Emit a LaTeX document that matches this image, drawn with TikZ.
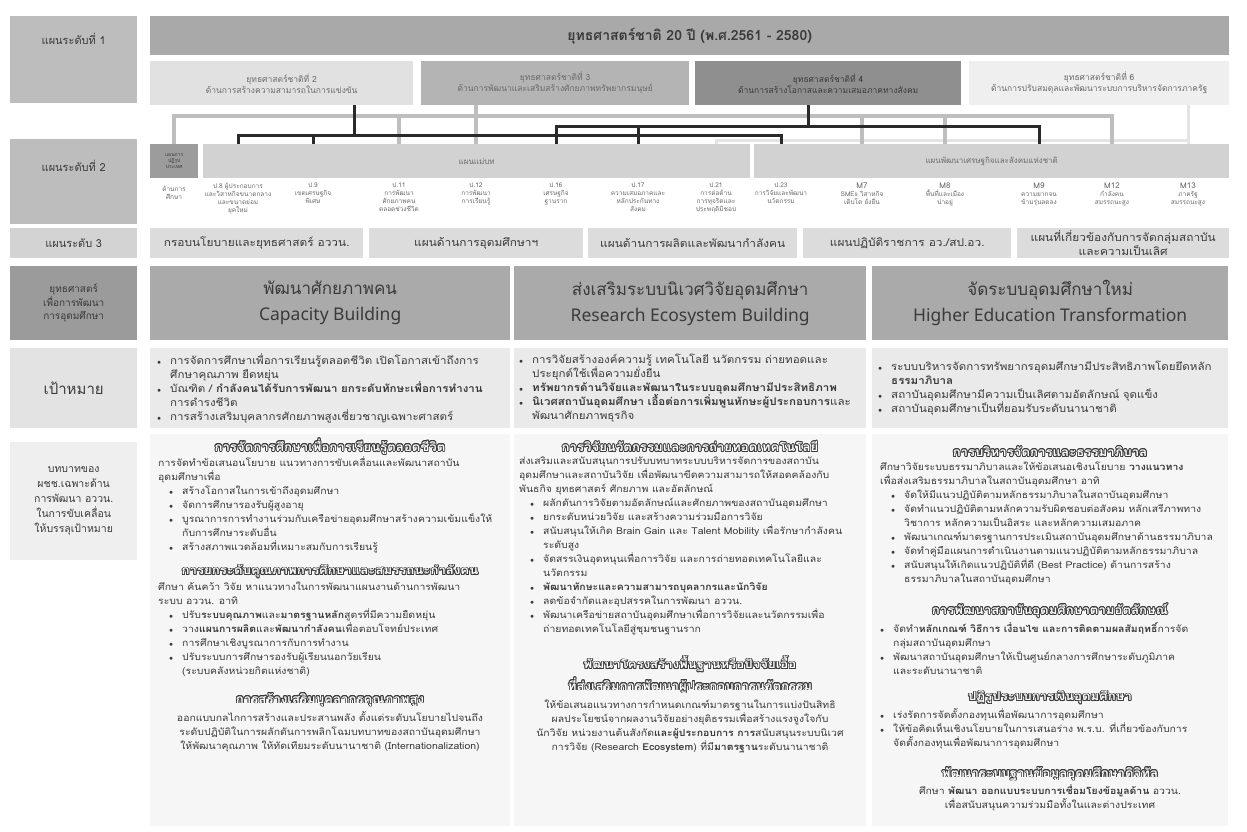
\documentclass[tikz,border=0pt]{standalone}
\usepackage{fontspec}
\usepackage[copies]{contour}
\setmainfont[Script=Thai]{Loma}
\newfontfamily\widethai[Script=Thai, FakeStretch=1.1]{Loma}
\newfontfamily\latinsans{Noto Sans}
\usetikzlibrary{positioning,calc}

\definecolor{ctitle}{HTML}{A9A9A9}
\definecolor{clab}{HTML}{BDBDBD}
\definecolor{csa}{HTML}{E1E1E1}
\definecolor{csb}{HTML}{B4B4B4}
\definecolor{csc}{HTML}{8F8F8F}
\definecolor{csd}{HTML}{EFEFEF}
\definecolor{cbar}{HTML}{D2D2D2}
\definecolor{creform}{HTML}{9C9C9C}
\definecolor{cplanlab}{HTML}{D3D3D3}
\definecolor{cplan}{HTML}{DCDCDC}
\definecolor{cstrlab}{HTML}{9B9B9B}
\definecolor{cstr}{HTML}{AAAAAA}
\definecolor{cgoallab}{HTML}{E3E3E3}
\definecolor{cgoal}{HTML}{EAEAEA}
\definecolor{clow}{HTML}{F6F6F6}
\definecolor{clowlab}{HTML}{EFEFEF}
\definecolor{txt}{HTML}{3A3A3A}
\definecolor{softtxt}{HTML}{6A6A6A}
\definecolor{headtxt}{HTML}{3C3C3C}
\definecolor{lnheavy}{HTML}{2A2A2A}
\definecolor{lnmid}{HTML}{BEBEBE}
\definecolor{lnpale}{HTML}{E4E4E4}

\contourlength{0.8pt}
\contournumber{16}
\newcommand{\hd}[1]{\contour{headtxt}{#1}}
\newcommand{\itm}{\makebox[13pt][l]{\scriptsize$\bullet$}}
\newcommand{\ind}{\hspace*{13pt}}
\newcommand{\sitm}{\hspace*{11pt}\itm}
\newcommand{\sind}{\hspace*{24pt}}

\tikzstyle{cell} = [rectangle, inner sep=0pt, anchor=north west, align=center, text=txt]
\tikzstyle{lvltext} = [font=\fontsize{11}{14}\selectfont, text=txt]
\tikzstyle{natbox} = [cell, minimum height=44pt, font=\fontsize{8.5}{11}\selectfont, text=softtxt]
\tikzstyle{item} = [anchor=north, align=center, inner sep=0pt, font=\fontsize{6.5}{8}\selectfont, text=softtxt]
\tikzstyle{planbox} = [cell, fill=cplan, minimum height=30pt, font=\widethai\fontsize{10.8}{12}\selectfont]
\tikzstyle{strbox} = [cell, fill=cstr, minimum height=74pt, font=\fontsize{17}{26}\selectfont]
\tikzstyle{goalbox} = [cell, fill=cgoal, minimum height=80pt, align=left, font=\widethai\fontsize{10.5}{14}\selectfont]
\tikzstyle{lowbox} = [cell, fill=clow, minimum height=392pt]
\tikzstyle{body} = [anchor=north west, align=left, inner sep=0pt, font=\widethai\fontsize{9.5}{14}\selectfont, text=txt]
\tikzstyle{bodyc} = [body, anchor=north, align=center]
\tikzstyle{head} = [anchor=center, inner sep=0pt, align=center, font=\widethai\fontsize{12}{15}\selectfont\bfseries, text=white]
\tikzstyle{darkln} = [line width=3pt, lnheavy]
\tikzstyle{midln} = [line width=3.5pt, lnmid]
\tikzstyle{paleln} = [line width=3pt, lnpale]

\begin{document}
\begin{tikzpicture}[x=1pt, y=-1pt]
  \fill[white] (0,0) rectangle (1247,831);
  \useasboundingbox (0,0) rectangle (1247,831);

  % level 1
  \node[cell, fill=clab, minimum width=127pt, minimum height=87pt,
    label={[lvltext, anchor=north, yshift=-14pt]north:แผนระดับที่ 1}] (lv1) at (10,16) {};
  \node[cell, fill=ctitle, minimum width=1079pt, minimum height=39pt,
    font=\fontsize{14}{16}\selectfont\bfseries] (nat) at (150,16) {ยุทธศาสตร์ชาติ 20 ปี (พ.ศ.2561 - 2580)};
  \node[natbox, fill=csa, minimum width=263pt] (s2) at (150,61) {ยุทธศาสตร์ชาติที่ 2\\ด้านการสร้างความสามารถในการแข่งขัน};
  \node[natbox, fill=csb, minimum width=268pt] (s3) at (421,61) {ยุทธศาสตร์ชาติที่ 3\\ด้านการพัฒนาและเสริมสร้างศักยภาพทรัพยากรมนุษย์};
  \node[natbox, fill=csc, minimum width=266pt, text=txt] (s4) at (695,61) {ยุทธศาสตร์ชาติที่ 4\\ด้านการสร้างโอกาสและความเสมอภาคทางสังคม};
  \node[natbox, fill=csd, minimum width=260pt] (s6) at (969,61) {ยุทธศาสตร์ชาติที่ 6\\ด้านการปรับสมดุลและพัฒนาระบบการบริหารจัดการภาครัฐ};

  % level 2
  \node[cell, fill=clab, minimum width=127pt, minimum height=85pt,
    label={[lvltext, anchor=north, yshift=-18pt]north:แผนระดับที่ 2}] (lv2) at (10,139) {};
  \node[cell, fill=creform, minimum width=48pt, minimum height=34pt,
    font=\fontsize{5}{6}\selectfont] (reform) at (150,144) {แผนการ\\ปฏิรูป\\ประเทศ};
  \node[item] (rfx) at (174,186) {ด้านการ\\ศึกษา};
  \node[cell, fill=cbar, minimum width=547pt, minimum height=34pt,
    font=\fontsize{8}{10}\selectfont, text=softtxt] (mb) at (203,144) {แผนแม่บท};
  \node[cell, fill=cbar, minimum width=475pt, minimum height=34pt,
    font=\fontsize{8}{10}\selectfont, text=softtxt] (ne) at (754,144) {แผนพัฒนาเศรษฐกิจและสังคมแห่งชาติ};

  \node[item] (p8) at (238,183) {ป.8 ผู้ประกอบการ\\และวิสาหกิจขนาดกลาง\\และขนาดย่อม\\ยุคใหม่};
  \node[item] (p9) at (313,183) {ป.9\\เขตเศรษฐกิจ\\พิเศษ};
  \node[item] (p11) at (399,183) {ป.11\\การพัฒนา\\ศักยภาพคน\\ตลอดช่วงชีวิต};
  \node[item] (p12) at (476,183) {ป.12\\การพัฒนา\\การเรียนรู้};
  \node[item] (p16) at (556,183) {ป.16\\เศรษฐกิจ\\ฐานราก};
  \node[item] (p17) at (638,183) {ป.17\\ความเสมอภาคและ\\หลักประกันทาง\\สังคม};
  \node[item] (p21) at (716,183) {ป.21\\การต่อต้าน\\การทุจริตและ\\ประพฤติมิชอบ};
  \node[item] (p23) at (781,183) {ป.23\\การวิจัยและพัฒนา\\นวัตกรรม};
  \node[item] (m7) at (862,183) {{\fontsize{8}{9}\selectfont M7}\\SMEs วิสาหกิจ\\เติบโต ยั่งยืน};
  \node[item] (m8) at (945,183) {{\fontsize{8}{9}\selectfont M8}\\พื้นที่และเมือง\\น่าอยู่};
  \node[item] (m9) at (1039,183) {{\fontsize{8}{9}\selectfont M9}\\ความยากจน\\ข้ามรุ่นลดลง};
  \node[item] (m12) at (1112,183) {{\fontsize{8}{9}\selectfont M12}\\กำลังคน\\สมรรถนะสูง};
  \node[item] (m13) at (1188,183) {{\fontsize{8}{9}\selectfont M13}\\ภาครัฐ\\สมรรถนะสูง};

  % links between level 1 and level 2
  \coordinate (gy) at (0,116);
  \coordinate (by) at (0,126);
  \coordinate (ay) at (0,135);
  \coordinate (ly) at (0,140);
  \coordinate (s2x) at (354,105);
  \coordinate (s4x) at (808,105);

  \draw[paleln] (s6.south -| m13) -- (m13 |- ne.north);
  \draw[paleln] (m13 |- ly) -- (p21 |- ly) -- (p21 |- mb.north);

  \draw[midln] (reform.north) -- (reform |- gy) -- (m12 |- gy) -- (m12 |- ne.north);
  \draw[midln] (s3.south -| p12) -- (p12 |- mb.north);
  \draw[midln] (p11 |- gy) -- (p11 |- mb.north);
  \foreach \n in {m7,m8}
    \draw[midln] (\n |- gy) -- (\n |- ne.north);

  \draw[darkln] (s4x) -- (s4x |- by);
  \draw[darkln] (p16 |- mb.north) -- (p16 |- by) -- (m9 |- by) -- (m9 |- ne.north);
  \draw[darkln] (p17 |- by) -- (p17 |- mb.north);

  \draw[darkln] (s2x) -- (s2x |- ay);
  \draw[darkln] (p8 |- mb.north) -- (p8 |- ay) -- (p23 |- ay) -- (p23 |- mb.north);
  \draw[darkln] (p9 |- ay) -- (p9 |- mb.north);

  % level 3
  \node[cell, fill=cplanlab, minimum width=127pt, minimum height=30pt, lvltext] (lv3) at (10,228) {แผนระดับ 3};
  \node[planbox, minimum width=213pt] (pl1) at (150,228) {กรอบนโยบายและยุทธศาสตร์ อววน.};
  \node[planbox, minimum width=214pt] (pl2) at (369,228) {แผนด้านการอุดมศึกษาฯ};
  \node[planbox, minimum width=209pt] (pl3) at (588,228) {แผนด้านการผลิตและพัฒนากำลังคน};
  \node[planbox, minimum width=208pt] (pl4) at (803,228) {แผนปฏิบัติราชการ อว./สป.อว.};
  \node[planbox, minimum width=212pt, font=\widethai\fontsize{10.8}{11.5}\selectfont] (pl5) at (1017,228) {แผนที่เกี่ยวข้องกับการจัดกลุ่มสถาบัน\\และความเป็นเลิศ};

  % strategies
  \node[cell, fill=cstrlab, minimum width=127pt, minimum height=74pt,
    font=\fontsize{10}{13.5}\selectfont] (lvs) at (10,266) {ยุทธศาสตร์\\เพื่อการพัฒนา\\การอุดมศึกษา};
  \node[strbox, minimum width=360pt] (st1) at (150,266) {พัฒนาศักยภาพคน\\{\latinsans\fontsize{17.5}{26}\selectfont Capacity Building}};
  \node[strbox, minimum width=352pt] (st2) at (514,266) {ส่งเสริมระบบนิเวศวิจัยอุดมศึกษา\\{\latinsans\fontsize{17.5}{26}\selectfont Research Ecosystem Building}};
  \node[strbox, minimum width=356pt] (st3) at (872,266) {จัดระบบอุดมศึกษาใหม่\\{\latinsans\fontsize{17.5}{26}\selectfont Higher Education Transformation}};

  % goals
  \node[cell, fill=cgoallab, minimum width=127pt, minimum height=80pt,
    font=\fontsize{15}{17}\selectfont] (lvg) at (10,348) {เป้าหมาย};
  \node[goalbox, minimum width=360pt, text width=346pt] (g1) at (150,348) {%
    \itm การจัดการศึกษาเพื่อการเรียนรู้ตลอดชีวิต เปิดโอกาสเข้าถึงการ\\
    \ind ศึกษาคุณภาพ ยืดหยุ่น\\
    \itm บัณฑิต / \textbf{กำลังคนได้รับการพัฒนา ยกระดับทักษะเพื่อการทำงาน}\\
    \ind การดำรงชีวิต\\
    \itm การสร้างเสริมบุคลากรศักยภาพสูงเชี่ยวชาญเฉพาะศาสตร์};
  \node[goalbox, minimum width=352pt, text width=342pt] (g2) at (514,348) {%
    \itm การวิจัยสร้างองค์ความรู้ เทคโนโลยี นวัตกรรม ถ่ายทอดและ\\
    \ind ประยุกต์ใช้เพื่อความยั่งยืน\\
    \itm \textbf{ทรัพยากรด้านวิจัยและพัฒนาในระบบอุดมศึกษามีประสิทธิภาพ}\\
    \itm \textbf{นิเวศสถาบันอุดมศึกษา เอื้อต่อการเพิ่มพูนทักษะผู้ประกอบการ}และ\\
    \ind พัฒนาศักยภาพธุรกิจ};
  \node[goalbox, minimum width=356pt, text width=344pt] (g3) at (872,348) {%
    \itm ระบบบริหารจัดการทรัพยากรอุดมศึกษามีประสิทธิภาพโดยยึดหลัก\\
    \ind \textbf{ธรรมาภิบาล}\\
    \itm สถาบันอุดมศึกษามีความเป็นเลิศตามอัตลักษณ์ จุดแข็ง\\
    \itm สถาบันอุดมศึกษาเป็นที่ยอมรับระดับนานาชาติ};

  % roles
  \node[cell, fill=clowlab, minimum width=127pt, minimum height=118pt,
    font=\fontsize{10.5}{15}\selectfont] (lvr) at (10,442) {บทบาทของ\\ผชช.เฉพาะด้าน\\การพัฒนา อววน.\\ในการขับเคลื่อน\\ให้บรรลุเป้าหมาย};
  \node[lowbox, minimum width=360pt] (lo1) at (150,434) {};
  \node[lowbox, minimum width=352pt] (lo2) at (514,434) {};
  \node[lowbox, minimum width=356pt] (lo3) at (872,434) {};

  \node[head] (h11) at (330,447) {\hd{การจัดการศึกษาเพื่อการเรียนรู้ตลอดชีวิต}};
  \node[body] (b11) at (158,457) {%
    การจัดทำข้อเสนอนโยบาย แนวทางการขับเคลื่อนและพัฒนาสถาบัน\\
    อุดมศึกษาเพื่อ\\
    \sitm สร้างโอกาสในการเข้าถึงอุดมศึกษา\\
    \sitm จัดการศึกษารองรับผู้สูงอายุ\\
    \sitm บูรณาการการทำงานร่วมกับเครือข่ายอุดมศึกษาสร้างความเข้มแข็งให้\\
    \sind กับการศึกษาระดับอื่น\\
    \sitm สร้างสภาพแวดล้อมที่เหมาะสมกับการเรียนรู้};
  \node[head] (h12) at (330,572) {\hd{การยกระดับคุณภาพการศึกษาและสมรรถนะกำลังคน}};
  \node[body] (b12) at (158,582) {%
    ศึกษา ค้นคว้า วิจัย หาแนวทางในการพัฒนาแผนงานด้านการพัฒนา\\
    ระบบ อววน. อาทิ\\
    \sitm ปรับ\textbf{ระบบคุณภาพ}และ\textbf{มาตรฐานหลัก}สูตรที่มีความยืดหยุ่น\\
    \sitm วาง\textbf{แผนการผลิต}และ\textbf{พัฒนากำลังคน}เพื่อตอบโจทย์ประเทศ\\
    \sitm การศึกษาเชิงบูรณาการกับการทำงาน\\
    \sitm ปรับระบบการศึกษารองรับผู้เรียนนอกวัยเรียน\\
    \sind (ระบบคลังหน่วยกิตแห่งชาติ)};
  \node[head] (h13) at (330,700) {\hd{การสร้างเสริมบุคลากรคุณภาพสูง}};
  \node[bodyc] (b13) at (330,711) {%
    ออกแบบกลไกการสร้างและประสานพลัง ตั้งแต่ระดับนโยบายไปจนถึง\\
    ระดับปฏิบัติในการผลักดันการพลิกโฉมบทบาทของสถาบันอุดมศึกษา\\
    ให้พัฒนาคุณภาพ ให้ทัดเทียมระดับนานาชาติ (Internationalization)};

  \node[head] (h21) at (690,447) {\hd{การวิจัยนวัตกรรมและการถ่ายทอดเทคโนโลยี}};
  \node[body] (b21) at (519,457) {%
    ส่งเสริมและสนับสนุนการปรับบทบาทระบบบริหารจัดการของสถาบัน\\
    อุดมศึกษาและสถาบันวิจัย เพื่อพัฒนาขีดความสามารถให้สอดคล้องกับ\\
    พันธกิจ ยุทธศาสตร์ ศักยภาพ และอัตลักษณ์\\
    \sitm ผลักดันการวิจัยตามอัตลักษณ์และศักยภาพของสถาบันอุดมศึกษา\\
    \sitm ยกระดับหน่วยวิจัย และสร้างความร่วมมือการวิจัย\\
    \sitm สนับสนุนให้เกิด Brain Gain และ Talent Mobility เพื่อรักษากำลังคน\\
    \sind ระดับสูง\\
    \sitm จัดสรรเงินอุดหนุนเพื่อการวิจัย และการถ่ายทอดเทคโนโลยีและ\\
    \sind นวัตกรรม\\
    \sitm \textbf{พัฒนาทักษะและความสามารถบุคลากรและนักวิจัย}\\
    \sitm ลดข้อจำกัดและอุปสรรคในการพัฒนา อววน.\\
    \sitm พัฒนาเครือข่ายสถาบันอุดมศึกษาเพื่อการวิจัยและนวัตกรรมเพื่อ\\
    \sind ถ่ายทอดเทคโนโลยีสู่ชุมชนฐานราก};
  \node[head] (h22) at (690,675) {\hd{พัฒนาโครงสร้างพื้นฐานหรือปัจจัยเอื้อ}\\[4pt]\hd{ที่ส่งเสริมการพัฒนาผู้ประกอบการนวัตกรรม}};
  \node[bodyc] (b22) at (690,700) {%
    ให้ข้อเสนอแนวทางการกำหนดเกณฑ์มาตรฐานในการแบ่งปันสิทธิ\\
    ผลประโยชน์จากผลงานวิจัยอย่างยุติธรรมเพื่อสร้างแรงจูงใจกับ\\
    นักวิจัย หน่วยงานต้นสังกัด\textbf{และผู้ประกอบการ การ}สนับสนุนระบบนิเวศ\\
    การวิจัย (Research \textbf{Ecosystem}) ที่มี\textbf{มาตรฐาน}ระดับนานาชาติ};

  \node[head] (h31) at (1050,452) {\hd{การบริหารจัดการและธรรมาภิบาล}};
  \node[body] (b31) at (880,462) {%
    ศึกษาวิจัยระบบธรรมาภิบาลและให้ข้อเสนอเชิงนโยบาย \textbf{วางแนวทาง}\\
    เพื่อส่งเสริมธรรมาภิบาลในสถาบันอุดมศึกษา อาทิ\\
    \sitm จัดให้มีแนวปฏิบัติตามหลักธรรมาภิบาลในสถาบันอุดมศึกษา\\
    \sitm จัดทำแนวปฏิบัติตามหลักความรับผิดชอบต่อสังคม หลักเสรีภาพทาง\\
    \sind วิชาการ หลักความเป็นอิสระ และหลักความเสมอภาค\\
    \sitm พัฒนาเกณฑ์มาตรฐานการประเมินสถาบันอุดมศึกษาด้านธรรมาภิบาล\\
    \sitm จัดทำคู่มือแผนการดำเนินงานตามแนวปฏิบัติตามหลักธรรมาภิบาล\\
    \sitm สนับสนุนให้เกิดแนวปฏิบัติที่ดี (Best Practice) ด้านการสร้าง\\
    \sind ธรรมาภิบาลในสถาบันอุดมศึกษา};
  \node[head] (h32) at (1050,611) {\hd{การพัฒนาสถาบันอุดมศึกษาตามอัตลักษณ์}};
  \node[body] (b32) at (880,622) {%
    \itm จัดทำ\textbf{หลักเกณฑ์ วิธีการ เงื่อนไข และการติดตามผลสัมฤทธิ์}การจัด\\
    \ind กลุ่มสถาบันอุดมศึกษา\\
    \itm พัฒนาสถาบันอุดมศึกษาให้เป็นศูนย์กลางการศึกษาระดับภูมิภาค\\
    \ind และระดับนานาชาติ};
  \node[head] (h33) at (1050,698) {\hd{ปฏิรูประบบการเงินอุดมศึกษา}};
  \node[body] (b33) at (880,708) {%
    \itm เร่งรัดการจัดตั้งกองทุนเพื่อพัฒนาการอุดมศึกษา\\
    \itm ให้ข้อคิดเห็นเชิงนโยบายในการเสนอร่าง พ.ร.บ. ที่เกี่ยวข้องกับการ\\
    \ind จัดตั้งกองทุนเพื่อพัฒนาการอุดมศึกษา};
  \node[head] (h34) at (1050,774) {\hd{พัฒนาระบบฐานข้อมูลอุดมศึกษาดิจิทัล}};
  \node[bodyc] (b34) at (1050,785) {%
    ศึกษา \textbf{พัฒนา ออกแบบระบบการเชื่อมโยงข้อมูลด้าน} อววน.\\
    เพื่อสนับสนุนความร่วมมือทั้งในและต่างประเทศ};
\end{tikzpicture}
\end{document}
